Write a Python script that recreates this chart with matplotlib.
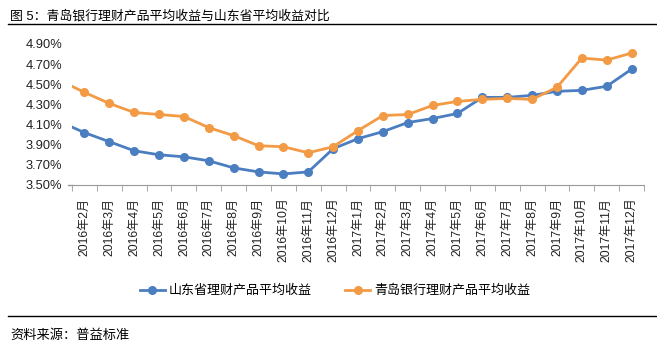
import matplotlib
matplotlib.use('Agg')
from matplotlib import pyplot as plt
from matplotlib.lines import Line2D
import numpy as np

plt.rcParams['font.family'] = ['Liberation Sans', 'Noto Sans CJK SC']

# months; the first one (2016年1月) sits just outside the visible range
months = ['2016年1月', '2016年2月', '2016年3月', '2016年4月', '2016年5月', '2016年6月',
          '2016年7月', '2016年8月', '2016年9月', '2016年10月', '2016年11月', '2016年12月',
          '2017年1月', '2017年2月', '2017年3月', '2017年4月', '2017年5月', '2017年6月',
          '2017年7月', '2017年8月', '2017年9月', '2017年10月', '2017年11月', '2017年12月']
shandong = [4.13, 4.02, 3.93, 3.84, 3.80, 3.78, 3.74, 3.67, 3.63, 3.61, 3.63, 3.86,
            3.96, 4.03, 4.12, 4.16, 4.21, 4.37, 4.37, 4.39, 4.43, 4.44, 4.48, 4.65]
qingdao = [4.54, 4.42, 4.31, 4.22, 4.20, 4.18, 4.07, 3.99, 3.89, 3.88, 3.82, 3.88,
           4.04, 4.19, 4.20, 4.29, 4.33, 4.35, 4.36, 4.35, 4.47, 4.76, 4.74, 4.81]
yticks = [3.50, 3.70, 3.90, 4.10, 4.30, 4.50, 4.70, 4.90]

blue = '#4A7EC0'
orange = '#F39A45'

fig = plt.figure(figsize=(6.57, 3.52), dpi=100)
ax = fig.add_axes([72 / 657, 1 - 185 / 352, 572 / 657, 141 / 352])

x = np.arange(len(months)) - 1
ax.plot(x, shandong, color=blue, lw=2, marker='o', ms=5.5, label='山东省理财产品平均收益')
ax.plot(x, qingdao, color=orange, lw=2, marker='o', ms=5.5, label='青岛银行理财产品平均收益')

ax.set_xlim(-0.5, len(months) - 1.5)
ax.set_ylim(3.50, 4.90)
ax.set_yticks(yticks)
ax.set_yticklabels(['%.2f%%' % v for v in yticks], fontsize=9.3, color='#222222')
ax.tick_params(axis='y', length=0, pad=7)

ax.set_xticks(np.arange(len(months) - 1))
ax.set_xticklabels(months[1:], rotation=90, fontsize=8.7, color='#222222')
ax.tick_params(axis='x', which='major', length=0, pad=9)
ax.set_xticks([-0.5] + list(np.arange(len(months) - 1) + 0.5), minor=True)
ax.tick_params(axis='x', which='minor', length=4, color='#999999', direction='out')

for s in ['top', 'right', 'left']:
    ax.spines[s].set_visible(False)
ax.spines['bottom'].set_color('#999999')
# short stub left of the axis at 3.50%
ax.plot([-0.66, -0.5], [3.50, 3.50], color='#999999', lw=1, clip_on=False)

fig.legend(loc='center', bbox_to_anchor=(335 / 657, 1 - 291 / 352), ncol=2,
           frameon=False, fontsize=9.4, handlelength=1.9, columnspacing=2.6,
           handletextpad=0.3)

fig.text(10 / 657, 1 - 16 / 352, '图 5：青岛银行理财产品平均收益与山东省平均收益对比',
         fontsize=9.3, va='center', ha='left')
fig.add_artist(Line2D([8 / 657, 1.0], [1 - 24 / 352] * 2, color='black', lw=1))
fig.add_artist(Line2D([8 / 657, 1.0], [1 - 316 / 352] * 2, color='black', lw=1))
fig.text(10 / 657, 1 - 336 / 352, '资料来源：普益标准', fontsize=9.5, va='center', ha='left')

fig.savefig('out.png', dpi=100)
